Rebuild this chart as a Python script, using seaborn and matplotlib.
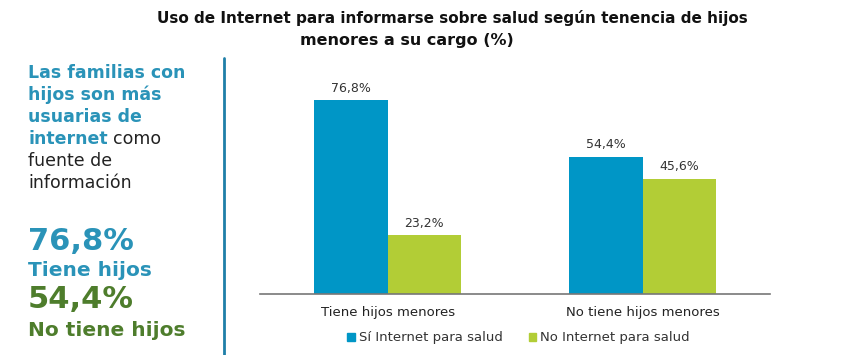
import pandas as pd
import matplotlib.pyplot as plt
import seaborn as sns

grupos = ["Tiene hijos menores", "No tiene hijos menores"]
series = ["Sí Internet para salud", "No Internet para salud"]
si_internet = [76.8, 54.4]
no_internet = [23.2, 45.6]
colores = ["#0096C6", "#B2CD36"]

df = pd.DataFrame({
    "grupo": grupos * 2,
    "serie": [series[0]] * 2 + [series[1]] * 2,
    "valor": si_internet + no_internet,
})

sns.set_style("white")
plt.rcParams["font.family"] = ["DejaVu Sans"]

fig = plt.figure(figsize=(8.5, 3.55), dpi=100)
ax = fig.add_axes([0.306, 0.172, 0.6, 0.711])

sns.barplot(data=df, x="grupo", y="valor", hue="serie", palette=colores,
            width=0.575, saturation=1, linewidth=0, ax=ax, legend=False)

for cont in ax.containers:
    ax.bar_label(cont, labels=[f"{v:.1f}%".replace(".", ",") for v in cont.datavalues],
                 padding=4, fontsize=9, color="#333333")

ax.set_xlim(-0.5, 1.5)
ax.set_ylim(0, 100)
ax.set_xlabel("")
ax.set_ylabel("")
ax.set_yticks([])
ax.tick_params(axis="x", length=0, labelsize=9.5, labelcolor="#222222", pad=9)
for s in ["top", "right", "left"]:
    ax.spines[s].set_visible(False)
ax.spines["bottom"].set_color("#777777")
ax.spines["bottom"].set_linewidth(1.2)

# leyenda
from matplotlib.patches import Patch
handles = [Patch(color=c) for c in colores]
fig.legend(handles, series, loc="center", bbox_to_anchor=(0.610, 0.048), ncol=2,
           frameon=False, fontsize=9.5, handlelength=0.55, handleheight=0.55,
           handletextpad=0.3, columnspacing=2.0, labelcolor="#333333")

# titulo
fig.text(0.532, 0.95, "Uso de Internet para informarse sobre salud según tenencia de hijos",
         ha="center", va="center", fontsize=11, fontweight="bold", color="#111111")
fig.text(0.479, 0.887, "menores a su cargo (%)",
         ha="center", va="center", fontsize=11.5, fontweight="bold", color="#111111")

# linea divisoria
fig.add_artist(plt.Line2D([224 / 850, 224 / 850], [1 - 58 / 355, 0], color="#1F7FA8", lw=2))

# texto lateral
azul = "#2A93B8"
verde = "#4E7D2C"
x0 = 28 / 850
lineas = ["Las familias con", "hijos son más", "usuarias de"]
ys = [73, 95, 117, 139, 161, 183]
for t, y in zip(lineas, ys):
    fig.text(x0, 1 - y / 355, t, fontsize=12.5, fontweight="bold", color=azul, va="center")
t1 = fig.text(x0, 1 - ys[3] / 355, "internet", fontsize=12.5, fontweight="bold", color=azul, va="center")
r = fig.canvas.get_renderer()
bb = t1.get_window_extent(renderer=r)
fig.text(bb.x1 / fig.bbox.width + 0.006, 1 - ys[3] / 355, "como", fontsize=12.5, color="#222222", va="center")
fig.text(x0, 1 - ys[4] / 355, "fuente de", fontsize=12.5, color="#222222", va="center")
fig.text(x0, 1 - ys[5] / 355, "información", fontsize=12.5, color="#222222", va="center")

fig.text(x0, 1 - 242 / 355, "76,8%", fontsize=22, fontweight="bold", color=azul, va="center")
fig.text(x0, 1 - 270 / 355, "Tiene hijos", fontsize=14.5, fontweight="bold", color=azul, va="center")
fig.text(x0, 1 - 300 / 355, "54,4%", fontsize=22, fontweight="bold", color=verde, va="center")
fig.text(x0, 1 - 330 / 355, "No tiene hijos", fontsize=14.5, fontweight="bold", color=verde, va="center")

fig.savefig("out.png", dpi=100)
